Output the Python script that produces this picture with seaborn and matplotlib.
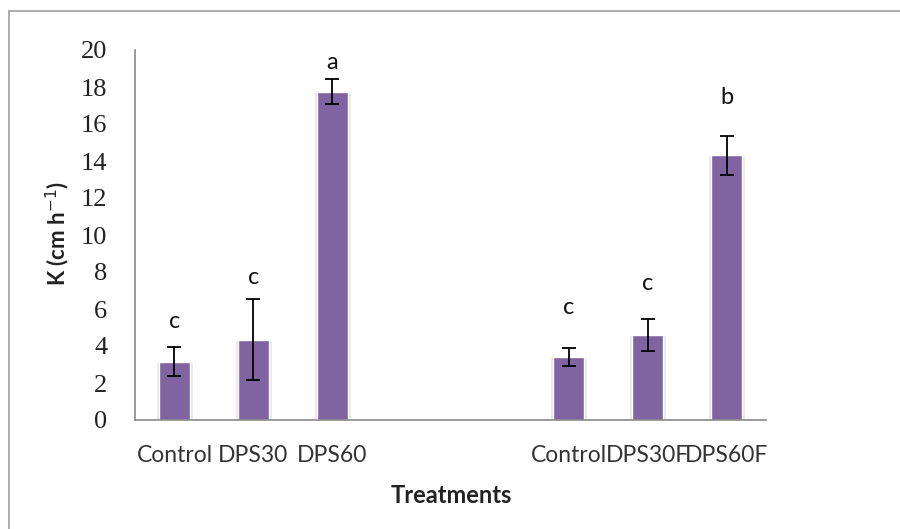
import matplotlib
matplotlib.use("Agg")
import matplotlib.pyplot as plt
import seaborn as sns
import pandas as pd
import numpy as np
from matplotlib.lines import Line2D

# Treatment slots along the x axis (two empty slots separate the groups)
slots = ["s1", "s2", "s3", "s4", "s5", "s6", "s7", "s8"]
slot_labels = ["Control", "DPS30", "DPS60", "", "", "Control", "DPS30F", "DPS60F"]

# Measured hydraulic conductivity for the treated slots
bar_slots = ["s1", "s2", "s3", "s6", "s7", "s8"]
k_mean = [3.15, 4.35, 17.75, 3.4, 4.6, 14.3]
k_err = [0.77, 2.17, 0.68, 0.5, 0.87, 1.05]
letters = ["c", "c", "a", "c", "c", "b"]
letter_y = [5.35, 7.7, 19.3, 6.1, 7.4, 17.45]

df = pd.DataFrame({"slot": bar_slots, "K": k_mean})

sns.set_style("white")
plt.rcParams["font.family"] = ["Lato", "DejaVu Sans"]

fig = plt.figure(figsize=(9.0, 5.29), dpi=100)
fig.patch.set_linewidth(0)
ax = fig.add_axes([135 / 900, 1 - 420 / 529, (766 - 135) / 900, 370 / 529])

purple = "#8064A2"

# soft grey halo behind each bar
sns.barplot(data=df, x="slot", y="K", order=slots, color="#e6e4e8",
            width=0.47, saturation=1, errorbar=None, ax=ax, zorder=1)
sns.barplot(data=df, x="slot", y="K", order=slots, color=purple,
            width=0.39, saturation=1, errorbar=None, ax=ax, zorder=2)

pos = [slots.index(s) for s in bar_slots]
ax.errorbar(pos, k_mean, yerr=k_err, fmt="none", ecolor="black",
            elinewidth=1.3, capsize=5, capthick=1.3, zorder=3)

for p, lt, ly in zip(pos, letters, letter_y):
    ax.text(p, ly, lt, ha="center", va="center", fontsize=17,
            color="#111111")

ax.set_ylim(0, 20)
ax.set_xlim(-0.5, len(slots) - 0.5)
ax.set_yticks(np.arange(0, 21, 2))

# category boundaries carry the tick marks, labels sit at the centres
ax.set_xticks(np.arange(-0.5, len(slots), 1.0))
ax.set_xticklabels([])
ax.set_xticks(np.arange(len(slots)), minor=True)
ax.set_xticklabels(slot_labels, minor=True)
ax.tick_params(axis="x", which="minor", length=0, pad=18,
               labelsize=16.5, labelcolor="#333333")
ax.tick_params(axis="x", which="major", length=8, width=1.2,
               color="#8a8a8a", direction="out")
ax.tick_params(axis="y", length=9, width=1.2, color="#8a8a8a",
               direction="out", pad=11, labelsize=19,
               labelcolor="#222222", labelfontfamily="Liberation Serif")

for side in ["top", "right"]:
    ax.spines[side].set_visible(False)
for side in ["left", "bottom"]:
    ax.spines[side].set_color("#8a8a8a")
    ax.spines[side].set_linewidth(1.2)

ax.set_xlabel("Treatments", fontsize=17, fontweight="bold", color="#222222")
ax.set_ylabel("K (cm h$^{-1}$)", fontsize=16, fontweight="bold",
              color="#222222")
ax.xaxis.set_label_coords(0.501, -0.172)
ax.yaxis.set_label_coords(-0.1, 0.505)

# outer chart frame: only its left and top edges fall inside the image
x0, y0 = 8.5 / 900, 1 - 10.5 / 529
fig.add_artist(Line2D([x0, 1.2], [y0, y0], transform=fig.transFigure,
                      color="#a0a0a0", linewidth=1.2))
fig.add_artist(Line2D([x0, x0], [-0.2, y0], transform=fig.transFigure,
                      color="#a0a0a0", linewidth=1.2))

fig.savefig("out.png", dpi=100, facecolor="white")
